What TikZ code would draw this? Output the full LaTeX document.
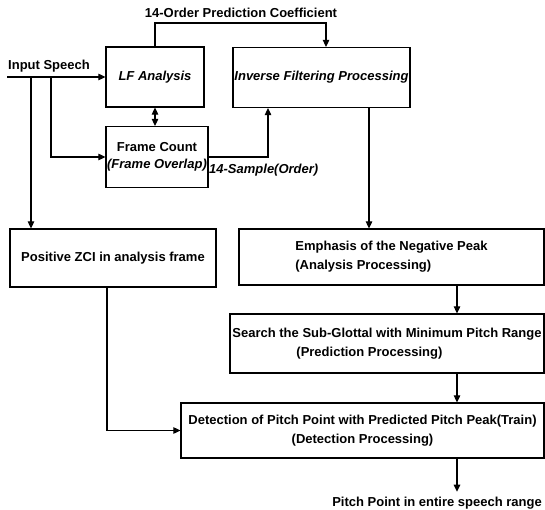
\documentclass[tikz,border=0pt]{standalone}
\usepackage{fontspec}
\setmainfont{Liberation Sans}
\usetikzlibrary{arrows.meta}
\begin{document}
\begin{tikzpicture}[x=1pt,y=-1pt,
  every node/.style={font=\fontsize{13}{19}\selectfont\bfseries, inner sep=0pt},
  box/.style={draw, line width=1.2pt, rectangle},
  lbl/.style={},
  arr/.style={line width=1.1pt, -{Triangle[length=7pt,width=6.5pt]}},
  arrtwo/.style={line width=1.1pt, {Triangle[length=7pt,width=6.5pt]}-{Triangle[length=7pt,width=6.5pt]}},
  plain/.style={line width=1.1pt}]
\useasboundingbox (0,0) rectangle (545,510);
% boxes
\node[box, minimum width=98pt, minimum height=60pt, font=\fontsize{13}{19}\selectfont\bfseries\itshape] (lf) at (155,77) {LF Analysis};
\node[box, minimum width=177pt, minimum height=60pt, font=\fontsize{13}{19}\selectfont\bfseries\itshape] (inv) at (321.5,77.5) {Inverse Filtering Processing};
\node[box, minimum width=102pt, minimum height=61pt, align=center] (frame) at (157,157) {Frame Count\\[-2pt]\textit{(Frame Overlap)}};
\node[box, minimum width=206pt, minimum height=58pt] (zci) at (113,258) {Positive ZCI in analysis frame};
\node[box, minimum width=305pt, minimum height=56pt, align=left] (emph) at (391.5,257) {Emphasis of the Negative Peak\\(Analysis Processing)};
\node[box, minimum width=314pt, minimum height=59pt, align=left] (search) at (387,343.5) {Search the Sub-Glottal with Minimum Pitch Range\\\hspace*{64pt}(Prediction Processing)};
\node[box, minimum width=363pt, minimum height=55pt, align=center] (det) at (362.5,430.5) {Detection of Pitch Point with Predicted Pitch Peak(Train)\\(Detection Processing)};
% texts
\node[lbl] (title) at (241,13) {14-Order Prediction Coefficient};
\node[lbl, anchor=west] (input) at (8,66) {Input Speech};
\node[lbl, anchor=west, font=\fontsize{13}{19}\selectfont\bfseries\itshape] (order) at (209,170) {14-Sample(Order)};
\node[lbl] (out) at (437,503) {Pitch Point in entire speech range};
% coordinates
\coordinate (in0) at (7,77);
\coordinate (b1) at (31,77);
\coordinate (b2) at (51,77);
\coordinate (tc) at (326,23);
\coordinate (upx) at (268,0);
\coordinate (vx) at (369,0);
\coordinate (ax) at (457,0);
\coordinate (zx) at (107,0);
% connectors
\draw[arr] (in0) -- (lf.west);
\draw[arr] (b1) -- (b1 |- zci.north);
\draw[arr] (b2) |- (frame.west);
\draw[arr] (lf.north) |- (tc) -- (tc |- inv.north);
\draw[arrtwo] (lf.south) -- (lf.south |- frame.north);
\draw[arr] (frame.east) -| (inv.south -| upx);
\draw[arr] (inv.south -| vx) -- (emph.north -| vx);
\draw[arr] (emph.south -| ax) -- (search.north -| ax);
\draw[arr] (search.south -| ax) -- (det.north -| ax);
\draw[arr] (zci.south -| zx) |- (det.west);
\draw[arr] (det.south -| ax) -- ([yshift=5pt]out.north -| ax);
\end{tikzpicture}
\end{document}
